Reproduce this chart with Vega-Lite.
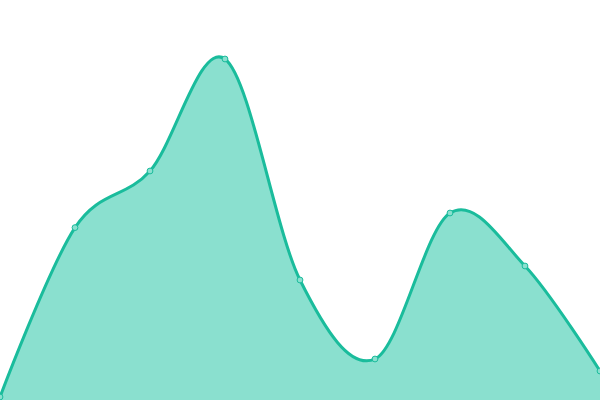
{
  "$schema": "https://vega.github.io/schema/vega-lite/v6.json",
  "width": 600,
  "height": 400,
  "autosize": {"type": "none"},
  "padding": 0,
  "background": "white",
  "config": {"view": {"stroke": null}},
  "data": {
    "values": [
      {"i": 0, "v": 0.75},
      {"i": 1, "v": 43.1},
      {"i": 2, "v": 57.25},
      {"i": 3, "v": 85.25},
      {"i": 4, "v": 30},
      {"i": 5, "v": 10.25},
      {"i": 6, "v": 46.75},
      {"i": 7, "v": 33.5},
      {"i": 8, "v": 7.25}
    ]
  },
  "encoding": {
    "x": {"field": "i", "type": "quantitative", "axis": null,
          "scale": {"domain": [0, 8], "nice": false, "zero": false}},
    "y": {"field": "v", "type": "quantitative", "axis": null,
          "scale": {"domain": [0, 100], "nice": false}}
  },
  "layer": [
    {
      "mark": {"type": "area", "interpolate": "cardinal", "tension": 0, "color": "#8ae0cf", "opacity": 1, "clip": true}
    },
    {
      "mark": {"type": "line", "interpolate": "cardinal", "tension": 0, "color": "#1abc9c", "strokeWidth": 3, "clip": true}
    },
    {
      "mark": {"type": "point", "filled": false, "fill": "#8ae0cf", "fillOpacity": 1, "stroke": "#1abc9c", "strokeWidth": 1, "size": 34, "opacity": 1}
    }
  ]
}
